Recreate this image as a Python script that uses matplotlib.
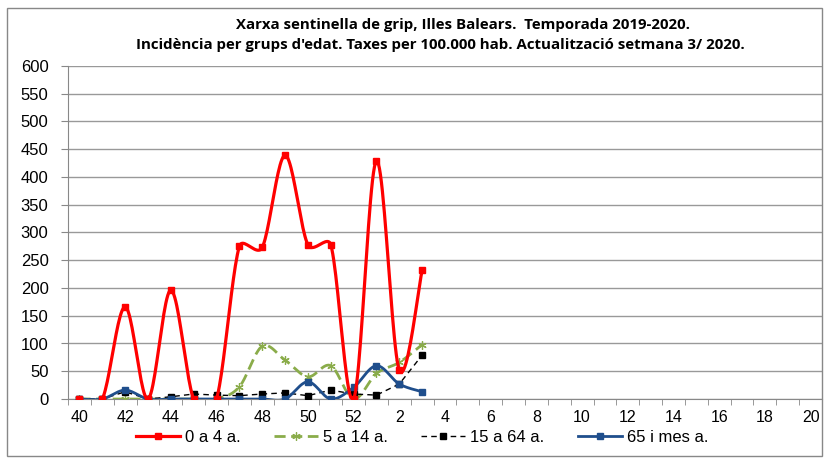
import matplotlib.pyplot as plt
import numpy as np
from matplotlib.patches import Rectangle
from matplotlib.lines import Line2D

weeks = [str(w) for w in range(40, 53)] + [str(w) for w in range(1, 21)]
n_data = 16  # weeks 40..3 have data

inc_0_4 = [0, 0, 166, 0, 196, 0, 0, 275, 273, 439, 278, 278, 0, 429, 52, 232]
inc_5_14 = [0, 0, 0, 0, 0, 0, 0, 22, 95, 70, 40, 60, 0, 46, 66, 98]
inc_15_64 = [0, 0, 13, 0, 4, 9, 7, 6, 9, 11, 6, 16, 9, 7, 27, 79]
inc_65 = [0, 0, 16, 0, 0, 0, 0, 0, 0, 0, 31, 0, 21, 60, 27, 13]

labels = ["0 a 4 a.", "5 a 14 a.", "15 a 64 a.", "65 i mes a."]

# approx pixel size of one x unit / one y unit (smoothing is done in screen space)
SX, SY = 22.85, 0.555


def smooth(y, steps=24):
    # Excel style smoothed line: bezier, handles 1/6 of chord, max half the segment
    n = len(y)
    P = np.column_stack([np.arange(n) * SX, np.asarray(y, dtype=float) * SY])
    xs, ys = [], []
    for i in range(n - 1):
        p0 = P[max(i - 1, 0)]
        p1, p2 = P[i], P[i + 1]
        p3 = P[min(i + 2, n - 1)]
        d12 = np.linalg.norm(p2 - p1)
        d02 = np.linalg.norm(p2 - p0)
        d13 = np.linalg.norm(p3 - p1)
        f0 = 1 / 6 if d02 / 6 < d12 / 2 else 0.5 * d12 / d02
        f3 = 1 / 6 if d13 / 6 < d12 / 2 else 0.5 * d12 / d13
        c1 = p1 + f0 * (p2 - p0)
        c2 = p2 - f3 * (p3 - p1)
        t = np.linspace(0, 1, steps)[:, None]
        pts = (1 - t) ** 3 * p1 + 3 * (1 - t) ** 2 * t * c1 + 3 * (1 - t) * t ** 2 * c2 + t ** 3 * p2
        xs.extend(pts[:, 0] / SX)
        ys.extend(pts[:, 1] / SY)
    return np.array(xs), np.array(ys)


plt.rcParams['font.family'] = ['Liberation Sans', 'DejaVu Sans']

fig = plt.figure(figsize=(8.26, 4.61), dpi=100)
ax = fig.add_axes([68 / 826, 1 - 399 / 461, (822 - 68) / 826, (399 - 66) / 461])

fig.patches.append(Rectangle((7 / 826, 5 / 461), 815 / 826, 448 / 461, transform=fig.transFigure,
                             fill=False, edgecolor='#888888', lw=1))

x = np.arange(n_data)
ms = 4.5
star = (6, 2, 0)

sx, sy = smooth(inc_0_4)
ax.plot(sx, sy, color='#ff0000', lw=2.3, zorder=4)
ax.plot(x, inc_0_4, ls='none', marker='s', ms=ms, color='#ff0000', zorder=5)

sx, sy = smooth(inc_5_14)
ax.plot(sx, sy, color='#8aac4a', lw=2, ls=(0, (4, 2)), zorder=3)
ax.plot(x, inc_5_14, ls='none', marker=star, ms=6, mew=0.9, color='#8aac4a', zorder=3)

ax.plot(x, inc_15_64, color='black', lw=1, ls=(0, (4, 3)), marker='s', ms=ms, zorder=3)

sx, sy = smooth(inc_65)
ax.plot(sx, sy, color='#1f4e8c', lw=2, zorder=3)
ax.plot(x, inc_65, ls='none', marker='s', ms=ms, color='#1f4e8c', zorder=3)

ax.set_xlim(-0.5, len(weeks) - 0.5)
ax.set_ylim(0, 600)
ax.set_yticks(range(0, 601, 50))
ax.yaxis.grid(True, color='#999999', lw=1)
ax.set_axisbelow(True)
ax.set_xticks(range(0, len(weeks), 2))
ax.set_xticklabels(weeks[::2])
ax.set_xticks(np.arange(-0.5, len(weeks), 1), minor=True)
ax.tick_params(axis='x', which='major', length=0, pad=8, labelsize=11.5)
ax.tick_params(axis='x', which='minor', length=4, color='#888888')
ax.tick_params(axis='y', length=5, color='#888888', labelsize=12, pad=9)
for side in ['top', 'right']:
    ax.spines[side].set_visible(False)
ax.spines['left'].set_color('#888888')
ax.spines['bottom'].set_color('#888888')

fig.text(463 / 826, 0.946, "Xarxa sentinella de grip, Illes Balears.  Temporada 2019-2020.", ha='center',
         va='center', fontsize=10.8, fontweight='bold', family=['Open Sans', 'DejaVu Sans'])
fig.text(440 / 826, 0.902, "Incidència per grups d'edat. Taxes per 100.000 hab. Actualització setmana 3/ 2020.",
         ha='center', va='center', fontsize=10.8, fontweight='bold', family=['Open Sans', 'DejaVu Sans'])

handles = [
    Line2D([], [], color='#ff0000', lw=2.3, marker='s', ms=ms),
    Line2D([], [], color='#8aac4a', lw=2, ls=(0, (4, 2)), marker=star, ms=6, mew=0.9),
    Line2D([], [], color='black', lw=1, ls=(0, (4, 3)), marker='s', ms=ms),
    Line2D([], [], color='#1f4e8c', lw=2, marker='s', ms=ms),
]
fig.legend(handles, labels, loc='center', bbox_to_anchor=(422 / 826, 0.052), ncol=4, frameon=False,
           fontsize=12, handlelength=2.65, handletextpad=0.3, columnspacing=2.0,
           borderaxespad=0, borderpad=0)

fig.savefig("out.png", dpi=100)
